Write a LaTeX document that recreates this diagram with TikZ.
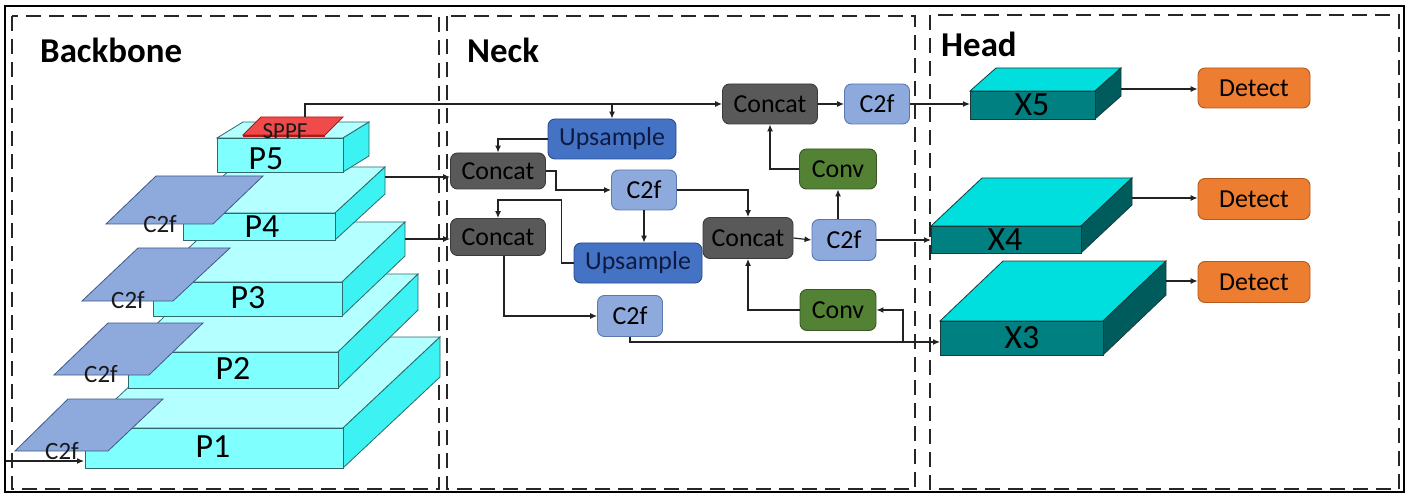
\documentclass[tikz,border=0pt]{standalone}
\usepackage{fontspec}
\setmainfont{Carlito}
\usetikzlibrary{arrows.meta}

\definecolor{slabfront}{HTML}{80FFFF}
\definecolor{slabtop}{HTML}{B4FFFF}
\definecolor{slabside}{HTML}{3CF2F2}
\definecolor{slabedge}{HTML}{2E6A6A}
\definecolor{headfront}{HTML}{008080}
\definecolor{headtop}{HTML}{00DEDE}
\definecolor{headside}{HTML}{005C5C}
\definecolor{headedge}{HTML}{1C3A3A}
\definecolor{plate}{HTML}{8EA9DB}
\definecolor{plateedge}{HTML}{3E5A8A}
\definecolor{sppfred}{HTML}{F04A4A}
\definecolor{sppfdark}{HTML}{B01818}
\definecolor{concatfill}{HTML}{595959}
\definecolor{concatedge}{HTML}{3A3A3A}
\definecolor{upfill}{HTML}{4472C4}
\definecolor{upedge}{HTML}{2C4C8C}
\definecolor{uptext}{HTML}{0E1A40}
\definecolor{c2ffill}{HTML}{8EA9DB}
\definecolor{c2fedge}{HTML}{5A78AE}
\definecolor{convfill}{HTML}{548235}
\definecolor{convedge}{HTML}{375623}
\definecolor{detfill}{HTML}{ED7D31}
\definecolor{detedge}{HTML}{B65A1C}
\definecolor{wire}{HTML}{222222}

% 3D slab, front rectangle (#1,#2)-(#3,#4), depth offset #5 to the right and #6 upwards
\newcommand\pslab[6]{%
  \filldraw[draw=slabedge, line width=0.8bp, fill=slabtop]
    (#1,#2) -- (#3,#2) -- ({#3+#5},{#2-#6}) -- ({#1+#5},{#2-#6}) -- cycle;
  \filldraw[draw=slabedge, line width=0.8bp, fill=slabside]
    (#3,#2) -- ({#3+#5},{#2-#6}) -- ({#3+#5},{#4-#6}) -- (#3,#4) -- cycle;
  \filldraw[draw=slabedge, line width=0.8bp, fill=slabfront] (#1,#2) rectangle (#3,#4);
}
\newcommand\hslab[6]{%
  \filldraw[draw=headedge, line width=0.8bp, fill=headtop]
    (#1,#2) -- (#3,#2) -- ({#3+#5},{#2-#6}) -- ({#1+#5},{#2-#6}) -- cycle;
  \filldraw[draw=headedge, line width=0.8bp, fill=headside]
    (#3,#2) -- ({#3+#5},{#2-#6}) -- ({#3+#5},{#4-#6}) -- (#3,#4) -- cycle;
  \filldraw[draw=headedge, line width=0.8bp, fill=headfront] (#1,#2) rectangle (#3,#4);
}

\begin{document}
\begin{tikzpicture}[x=1bp, y={(0,-1bp)},
  wirestyle/.style={draw=wire, line width=1.2bp},
  arr/.style={wirestyle, -{Latex[length=7bp,width=6bp]}},
  zone/.style={draw=black!85, line width=1.8bp, dash pattern=on 15bp off 8bp},
  title/.style={font=\fontsize{35}{38}\selectfont\bfseries, anchor=base west, inner sep=0},
  blk/.style={rounded corners=7bp, line width=0.9bp, minimum height=40bp,
    inner sep=0, font=\fontsize{26}{29}\selectfont},
  concatbox/.style={blk, fill=concatfill, draw=concatedge, text=black, minimum width=95bp},
  upbox/.style={blk, fill=upfill, draw=upedge, text=uptext, minimum width=128bp},
  c2fbox/.style={blk, fill=c2ffill, draw=c2fedge, text=black, minimum width=65bp},
  convbox/.style={blk, fill=convfill, draw=convedge, text=black, minimum width=77bp},
  detbox/.style={blk, fill=detfill, draw=detedge, text=black, minimum width=112bp},
  plabel/.style={font=\fontsize{34}{37}\selectfont, inner sep=0},
  platelabel/.style={font=\fontsize{25}{28}\selectfont, inner sep=0, text=black!90},
  plateshape/.style={fill=plate, draw=plateedge, line width=0.8bp},
]
\useasboundingbox (0,0) rectangle (1410,496);
\fill[white] (0,0) rectangle (1410,496);

% outer frame and the three stages
\draw[black, line width=2bp] (5,6) rectangle (1404,492);
\draw[zone] (12,16) rectangle (439,489);
\draw[zone] (447,16) rectangle (915,489);
\draw[zone] (930,15) rectangle (1399,489);

\node[title] (tbb) at (40,63) {Backbone};
\node[title] (tnk) at (467,63) {Neck};
\node[title] (thd) at (941,57) {Head};

% ---------------- Backbone pyramid ----------------
\pslab{85}{428}{343}{468}{97}{91}
\pslab{128}{352}{338}{388}{80}{78}
\pslab{153}{282}{342}{316}{63}{60}
\pslab{183}{213}{335}{240}{50}{46}
\pslab{217}{138}{343}{172}{26}{16}

\node[plabel] (p1) at (213,447) {P1};
\node[plabel] (p2) at (233,369) {P2};
\node[plabel] (p3) at (248,298) {P3};
\node[plabel] (p4) at (262,227) {P4};
\node[plabel] (p5) at (266,159) {P5};

% SPPF plate on top of P5
\filldraw[fill=sppfred, draw=sppfdark, line width=0.8bp]
  (243,135) -- (325,135) -- (343,117) -- (261,117) -- cycle;
\draw[sppfdark, line width=2.4bp] (243,136) -- (325,136);
\node[platelabel, font=\fontsize{23}{25}\selectfont] (sppf) at (285,131) {SPPF};

% C2f plates beside each stage
\filldraw[plateshape] (106,224) -- (213,224) -- (263,176) -- (156,176) -- cycle;
\filldraw[plateshape] (82,301) -- (173,301) -- (230,248) -- (138,248) -- cycle;
\filldraw[plateshape] (54,375) -- (149,375) -- (203,323) -- (108,323) -- cycle;
\filldraw[plateshape] (15,451) -- (108,451) -- (163,399) -- (68,399) -- cycle;
\node[platelabel] (bc4) at (160,224) {C2f};
\node[platelabel] (bc3) at (128,300) {C2f};
\node[platelabel] (bc2) at (101,374) {C2f};
\node[platelabel] (bc1) at (62,451) {C2f};

\coordinate (inp) at (6,461);
\coordinate (p1in) at (84,461);
\draw[arr] (inp) -- (p1in);

\coordinate (sppftop) at (305,117);
\coordinate (p4out) at (385,177);
\coordinate (p3out) at (405,239);

% ---------------- Neck ----------------
\node[concatbox] (ct)   at (770,104) {Concat};
\node[c2fbox]    (c2ft) at (877,104) {C2f};
\node[upbox]     (up1)  at (612,139) {Upsample};
\node[concatbox, minimum height=36bp] (cl1) at (498,171) {Concat};
\node[c2fbox]    (c2fm) at (644,190) {C2f};
\node[convbox]   (cv1)  at (838,169) {Conv};
\node[concatbox, minimum height=37bp] (cl2) at (498,237) {Concat};
\node[upbox]     (up2)  at (638,263) {Upsample};
\node[concatbox, minimum width=90bp, minimum height=41bp] (cm) at (748,238) {Concat};
\node[c2fbox, minimum width=64bp, minimum height=41bp] (c2fr) at (844,240) {C2f};
\node[convbox, minimum width=76bp, minimum height=41bp] (cv2) at (838,310) {Conv};
\node[c2fbox, minimum height=41bp] (c2fb) at (630,316) {C2f};

% ---------------- Head ----------------
\hslab{970}{91}{1095}{119}{26}{23}
\hslab{931}{226}{1081}{253}{51}{48}
\hslab{940}{321}{1103}{355}{63}{60}
\node[plabel] (x5) at (1032,105) {X5};
\node[plabel] (x4) at (1005,240) {X4};
\node[plabel] (x3) at (1022,338) {X3};

\coordinate (x5in) at (970,104);
\coordinate (x4in) at (931,240);
\coordinate (x3in) at (940,342);
\coordinate (x5out) at (1121,89);
\coordinate (x4out) at (1132,198);
\coordinate (x3out) at (1166,281);

\node[detbox] (d1) at (1254,88) {Detect};
\node[detbox, minimum height=41bp] (d2) at (1254,199) {Detect};
\node[detbox, minimum height=41bp] (d3) at (1254,282) {Detect};

% ---------------- connectors ----------------
\draw[arr] (sppftop) |- (ct.west);
\coordinate (br1) at (up1.north |- ct.west);
\draw[arr] (br1) -- (up1.north);
\draw[arr] (p4out) -- (p4out -| cl1.west);
\draw[arr] (p3out) -- (p3out -| cl2.west);
\draw[arr] (up1.west) -| (cl1.north);
\draw[arr] (cl1.east) -- ++(10,0) |- (c2fm.west);
\draw[arr] (c2fm.east) -| (cm.north);
\draw[arr] (c2fm.south) -- (c2fm.south |- up2.north);
\draw[arr] (up2.west) -- ++(-12,0) -- ++(0,-63) -| (cl2.north);
\draw[arr] (cm.east) -- (c2fr.west);
\draw[arr] (cv1.south |- c2fr.north) -- (cv1.south);
\draw[arr] (cv1.west) -| (ct.south);
\draw[arr] (ct.east) -- (c2ft.west);
\draw[arr] (c2ft.east) -- (x5in);
\draw[arr] (c2fr.east) -- (x4in);
\draw[arr] ([xshift=6bp]cl2.south) |- (c2fb.west);
\draw[arr] (c2fb.south) |- (x3in);
\coordinate (br2) at (903,342);
\draw[arr] (br2) |- (cv2.east);
\draw[arr] (cv2.west) -| (cm.south);
\draw[arr] (x5out) -- (x5out -| d1.west);
\draw[arr] (x4out) -- (x4out -| d2.west);
\draw[arr] (x3out) -- (x3out -| d3.west);
\end{tikzpicture}
\end{document}
